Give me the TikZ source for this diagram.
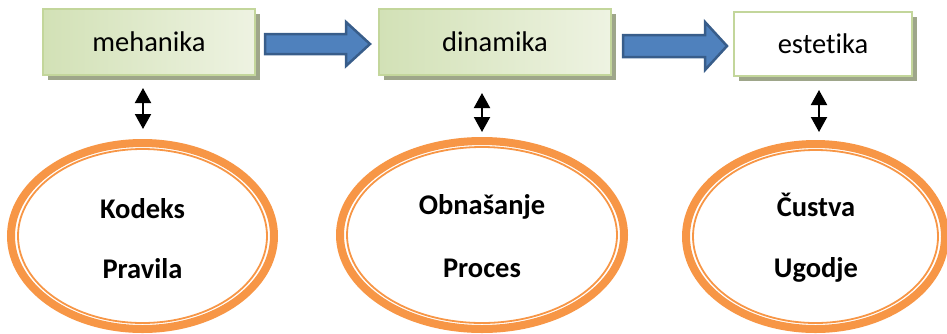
\documentclass[tikz,border=0pt]{standalone}
\usepackage{fontspec}
\setmainfont{Carlito}[Ligatures=NoCommon]
\usetikzlibrary{shapes.geometric,shadows,arrows.meta}

\definecolor{boxedge}{RGB}{195,214,155}
\definecolor{boxshade}{RGB}{158,166,138}
\definecolor{greenL}{RGB}{210,225,182}
\definecolor{greenR}{RGB}{238,243,226}
\definecolor{ringorange}{RGB}{247,150,70}
\definecolor{flowblue}{RGB}{79,129,189}
\definecolor{flowedge}{RGB}{56,93,138}

\tikzset{
  stage/.style={rectangle, draw=boxedge, line width=2pt, inner sep=0pt,
    drop shadow={shadow xshift=5pt, shadow yshift=-5pt, fill=boxshade, opacity=1},
    font=\fontsize{28.5}{34}\selectfont},
  greenstage/.style={stage, left color=greenL, right color=greenR},
  whitestage/.style={stage, fill=white},
  ring/.style={ellipse, draw=ringorange, line width=8pt, inner sep=0pt},
  ringthin/.style={draw=ringorange, line width=1.8pt},
  flow/.style={fill=flowblue, draw=flowedge, line width=2.5pt, line join=miter},
  dbl/.style={{Triangle[length=15pt,width=16pt]}-{Triangle[length=15pt,width=16pt]}, line width=2pt},
  lbl/.style={font=\bfseries\fontsize{28.5}{34}\selectfont, inner sep=0pt, anchor=base}
}

\begin{document}
\begin{tikzpicture}[x=1pt,y=-1pt]
\useasboundingbox (0,0) rectangle (947,333);

% top row of stages
\node[greenstage, minimum width=212pt, minimum height=66pt] (mech) at (149,42) {mehanika};
\node[greenstage, minimum width=232pt, minimum height=66pt] (dyn) at (495,42) {dinamika};
\node[whitestage, minimum width=178pt, minimum height=64pt] (aest) at (823,44) {estetika};

% block arrows between the stages
\draw[flow] (265,34) -- (346,34) -- (346,22) -- (370,44) -- (346,66) -- (346,54) -- (265,54) -- cycle;
\draw[flow] (623,35) -- (705,35) -- (705,22) -- (727,46) -- (705,70) -- (705,57) -- (623,57) -- cycle;

% ellipses with a thick outer ring and a thin inner ring
\node[ring, minimum width=263pt, minimum height=186pt] (e1) at (142.5,236) {};
\draw[ringthin] (e1.center) ellipse [x radius=124.5, y radius=87];
\node[ring, minimum width=284pt, minimum height=188pt] (e2) at (482,235) {};
\draw[ringthin] (e2.center) ellipse [x radius=135, y radius=88];
\node[ring, minimum width=259pt, minimum height=185pt] (e3) at (815.5,236.5) {};
\draw[ringthin] (e3.center) ellipse [x radius=122.5, y radius=86.5];

% texts inside the ellipses
\node[lbl] (k1) at (142.5,218) {Kodeks};
\node[lbl] (k2) at (142.5,278) {Pravila};
\node[lbl] (d1) at (482,214) {Obnašanje};
\node[lbl] (d2) at (482,277) {Proces};
\node[lbl] (a1) at (816,216) {Čustva};
\node[lbl] (a2) at (816,277) {Ugodje};

% two-headed links between stages and ellipses
\coordinate (u1) at (143,88);
\coordinate (u2) at (482,93);
\coordinate (u3) at (819,90);
\draw[dbl, shorten >=10pt] (u1) -- (u1 |- e1.north);
\draw[dbl, shorten >=5pt] (u2) -- (u2 |- e2.north);
\draw[dbl, shorten >=8pt] (u3) -- (u3 |- e3.north);
\end{tikzpicture}
\end{document}
